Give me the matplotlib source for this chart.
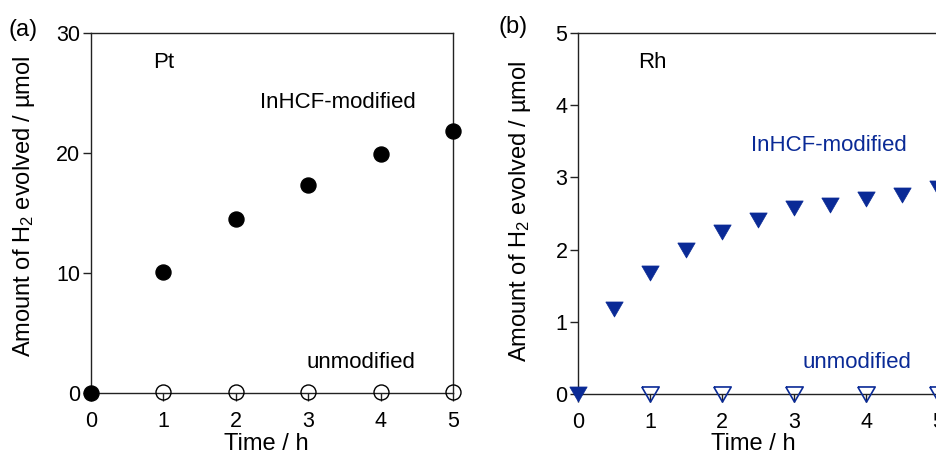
import matplotlib
matplotlib.use("Agg")
import matplotlib.pyplot as plt

plt.rcParams["font.family"] = ["Liberation Sans", "DejaVu Sans"]
plt.rcParams["mathtext.fontset"] = "custom"
plt.rcParams["mathtext.rm"] = "Liberation Sans"
plt.rcParams["mathtext.it"] = "Liberation Sans:italic"

# (a) Pt co-catalyst
pt_time = [0, 1, 2, 3, 4, 5]
pt_modified = [0, 10.1, 14.5, 17.3, 19.9, 21.8]
pt_unmod_time = [1, 2, 3, 4, 5]
pt_unmodified = [0.1, 0.1, 0.1, 0.1, 0.1]

# (b) Rh co-catalyst
rh_time = [0, 0.5, 1, 1.5, 2, 2.5, 3, 3.5, 4, 4.5, 5]
rh_modified = [0, 1.18, 1.68, 1.99, 2.25, 2.41, 2.58, 2.62, 2.70, 2.76, 2.85]
rh_unmod_time = [1, 2, 3, 4, 5]
rh_unmodified = [0, 0, 0, 0, 0]

BLUE = "#0a2a96"
AXIS_COLOR = "#222222"
TRI_DOWN = [(-1, 0.866), (1, 0.866), (0, -0.866), (-1, 0.866)]

YLABEL = r"Amount of H$_2$ evolved / µmol"
TICK_FS = 15.5
NOTE_FS = 16
LABEL_FS = 17


def style_axes(ax, ymax, yticks):
    ax.set_xlim(0, 5)
    ax.set_ylim(0, ymax)
    ax.set_xticks(range(6))
    ax.set_yticks(yticks)
    for side in ("left", "right", "top", "bottom"):
        ax.spines[side].set_color(AXIS_COLOR)
        ax.spines[side].set_linewidth(1.0)
    ax.tick_params(direction="out", length=5.8, width=1.0, color=AXIS_COLOR,
                   labelsize=TICK_FS, pad=2)
    ax.tick_params(axis="x", pad=7.5)


fig = plt.figure(figsize=(9.36, 4.55), dpi=100)
ax_a = fig.add_axes([0.0972, 0.1363, 0.3868, 0.7912])
ax_b = fig.add_axes([0.6178, 0.1341, 0.3846, 0.7934])

# ---- panel (a) ----
style_axes(ax_a, 30, [0, 10, 20, 30])
ax_a.plot(pt_time, pt_modified, "o", color="black", markersize=10.8,
          clip_on=False, zorder=3)
ax_a.plot(pt_unmod_time, pt_unmodified, "o", mfc="none", mec="black",
          mew=1.0, markersize=10.8, clip_on=False, zorder=3)
ax_a.text(0.86, 27.08, "Pt", fontsize=NOTE_FS, va="baseline")
ax_a.text(2.33, 23.75, "InHCF-modified", fontsize=NOTE_FS, va="baseline")
ax_a.text(2.97, 2.08, "unmodified", fontsize=NOTE_FS, va="baseline")
ax_a.set_ylabel(YLABEL, fontsize=LABEL_FS)
ax_a.yaxis.set_label_coords(-0.148, 0.518)
ax_a.set_xlabel("Time / h", fontsize=LABEL_FS, va="baseline")
ax_a.xaxis.set_label_coords(0.485, -0.157)

# ---- panel (b) ----
style_axes(ax_b, 5, [0, 1, 2, 3, 4, 5])
ax_b.plot(rh_time, rh_modified, marker=TRI_DOWN, linestyle="none",
          color=BLUE, markersize=12.5, mew=0.5, clip_on=False, zorder=3)
ax_b.plot(rh_unmod_time, rh_unmodified, marker=TRI_DOWN, linestyle="none",
          mfc="none", mec=BLUE, mew=1.2, markersize=12.5, clip_on=False,
          zorder=3)
ax_b.text(0.83, 4.51, "Rh", fontsize=NOTE_FS, va="baseline")
ax_b.text(2.40, 3.36, "InHCF-modified", fontsize=NOTE_FS, va="baseline",
          color=BLUE)
ax_b.text(3.12, 0.356, "unmodified", fontsize=NOTE_FS, va="baseline",
          color=BLUE)
ax_b.set_ylabel(YLABEL, fontsize=LABEL_FS)
ax_b.yaxis.set_label_coords(-0.127, 0.507)
ax_b.set_xlabel("Time / h", fontsize=LABEL_FS, va="baseline")
ax_b.xaxis.set_label_coords(0.485, -0.154)

# panel letters
fig.text(8 / 936, 1 - 36 / 455, "(a)", fontsize=LABEL_FS, va="baseline")
fig.text(498 / 936, 1 - 33 / 455, "(b)", fontsize=LABEL_FS, va="baseline")

fig.savefig("out.png", dpi=100, facecolor="white")
